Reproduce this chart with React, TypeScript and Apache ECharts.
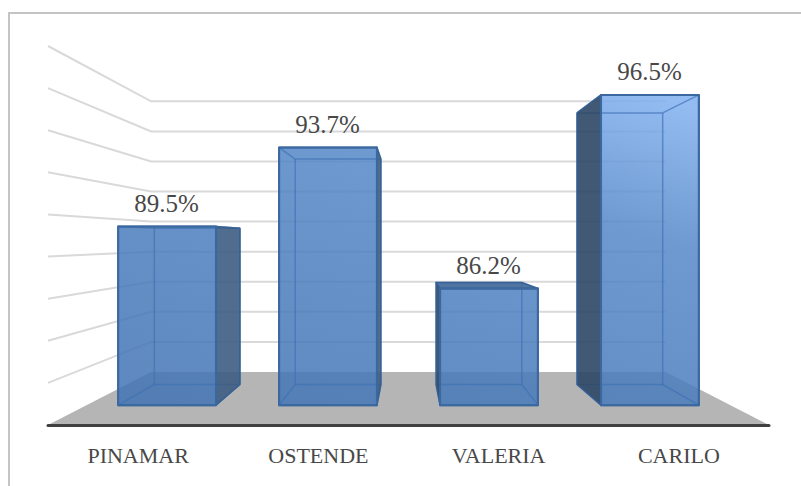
import React, { useEffect, useRef } from "react";
import * as echarts from "echarts";

const categories = ["PINAMAR", "OSTENDE", "VALERIA", "CARILO"];
const barValues = [89.5, 93.7, 86.2, 96.5];
const gridTicks = [82, 84, 86, 88, 90, 92, 94, 96, 98];
const axisMin = 80;
const axisMax = 98;
const axisStep = 2;

// perspective of the 3D box: vanishing point and plane scales
const VX = 408.5;
const VY = 239.5;
const S_WALL = 0.714;
const S_BAR_FRONT = 0.893;
const S_BAR_BACK = 0.7817;
const BAR_RATIO = 0.608;
const FONT = '"Liberation Serif", serif';
const TEXT = "#484848";

const proj = (p: number[], s: number) => [VX + s * (p[0] - VX), VY + s * (p[1] - VY)];

const glass = () =>
  new echarts.graphic.LinearGradient(
    100, 400, 229, -31,
    [
      { offset: 0, color: "rgb(65,115,179)" },
      { offset: 0.35, color: "rgb(73,124,188)" },
      { offset: 0.7, color: "rgb(84,136,200)" },
      { offset: 1, color: "rgb(128,176,239)" },
    ],
    true,
  );

const renderFloor = (params: any) => {
  const c = params.coordSys;
  const fl = [c.x, c.y + c.height];
  const fr = [c.x + c.width, c.y + c.height];
  return {
    type: "polygon",
    shape: { points: [fl, fr, proj(fr, S_WALL), proj(fl, S_WALL)] },
    style: { fill: "#B5B5B5" },
  };
};

const renderGrid = (params: any, api: any) => {
  const c = params.coordSys;
  const y = api.coord([0, api.value(1)])[1];
  const a = [c.x, y];
  const b = [c.x + c.width, y];
  return {
    type: "polyline",
    shape: { points: [a, proj(a, S_WALL), proj(b, S_WALL)] },
    style: { fill: "none", stroke: "#D9D9D9", lineWidth: 2 },
  };
};

const renderBar = (_params: any, api: any) => {
  const idx = api.value(0);
  const v = api.value(1);
  const base = api.coord([idx, axisMin]);
  const top = api.coord([idx, v]);
  const hw = (api.size([1, 0])[0] * BAR_RATIO) / 2;
  const corners = [
    [base[0] - hw, top[1]],
    [base[0] + hw, top[1]],
    [base[0] + hw, base[1]],
    [base[0] - hw, base[1]],
  ];
  const f = corners.map((p) => proj(p, S_BAR_FRONT));
  const b = corners.map((p) => proj(p, S_BAR_BACK));
  const children: any[] = [];
  const outline = "#3A689F";
  const inner = "rgba(62,112,178,0.65)";
  const poly = (pts: number[][], fill: any, stroke: string, lineWidth: number, opacity = 1) => ({
    type: "polygon",
    shape: { points: pts },
    style: { fill, stroke, lineWidth, opacity, lineJoin: "round" },
  });
  const seg = (p: number[], q: number[]) => ({
    type: "line",
    shape: { x1: p[0], y1: p[1], x2: q[0], y2: q[1] },
    style: { stroke: inner, lineWidth: 1.5 },
  });
  children.push(poly(f, glass(), outline, 2, 0.85));
  children.push(seg(b[0], b[1]), seg(b[1], b[2]), seg(b[2], b[3]), seg(b[3], b[0]));
  children.push(seg(b[0], f[0]), seg(b[1], f[1]), seg(b[2], f[2]), seg(b[3], f[3]));
  if (b[0][0] < f[0][0]) {
    children.push(poly([b[0], f[0], f[3], b[3]], "#2C4765", "#345F93", 1.5, 0.9));
  }
  if (b[1][0] > f[1][0]) {
    children.push(poly([f[1], b[1], b[2], f[2]], "#3D5C83", "#345F93", 1.5, 0.9));
  }
  if (b[0][1] < f[0][1]) {
    children.push(poly([b[0], b[1], f[1], f[0]], "#3D6699", "#345F93", 1.5, 0.9));
  }
  children.push(poly(f, "none", outline, 2));
  children.push({
    type: "text",
    style: {
      text: v.toFixed(1) + "%",
      x: (f[0][0] + f[1][0]) / 2 - 0.5,
      y: f[0][1] - 23.5,
      align: "center",
      verticalAlign: "middle",
      fontSize: 25,
      fontFamily: FONT,
      fill: TEXT,
    },
  });
  return { type: "group", children };
};

export default function App() {
  const ref = useRef<HTMLDivElement>(null);
  useEffect(() => {
    const chart = echarts.init(ref.current!, undefined, { renderer: "svg" });
    chart.setOption({
      animation: false,
      backgroundColor: "#fff",
      grid: { left: 48, top: 46, width: 721, height: 379 },
      xAxis: {
        type: "category",
        data: categories,
        axisLine: { lineStyle: { color: "#404040", width: 3, cap: "round" } },
        axisTick: { show: false },
        axisLabel: { color: TEXT, fontFamily: FONT, fontSize: 22, margin: 19 },
        z: 10,
      },
      yAxis: {
        type: "value",
        min: axisMin,
        max: axisMax,
        interval: axisStep,
        show: false,
        splitLine: { show: false },
      },
      graphic: [
        {
          type: "polyline",
          shape: { points: [[9, 486], [9, 13], [801, 13]] },
          style: { fill: "none", stroke: "#C4C4C4", lineWidth: 2 },
          silent: true,
        },
      ],
      series: [
        {
          type: "custom",
          coordinateSystem: "cartesian2d",
          renderItem: renderFloor,
          data: [[0, axisMin]],
          z: 1,
          silent: true,
        },
        {
          type: "custom",
          coordinateSystem: "cartesian2d",
          renderItem: renderGrid,
          data: gridTicks.map((t) => [0, t]),
          z: 2,
          silent: true,
        },
        {
          type: "custom",
          coordinateSystem: "cartesian2d",
          renderItem: renderBar,
          data: barValues.map((v, i) => [i, v]),
          encode: { x: 0, y: 1 },
          z: 3,
          silent: true,
        },
      ],
    });
    return () => chart.dispose();
  }, []);
  return <div ref={ref} style={{ position: "absolute", left: 0, top: 0, width: 801, height: 486 }} />;
}
